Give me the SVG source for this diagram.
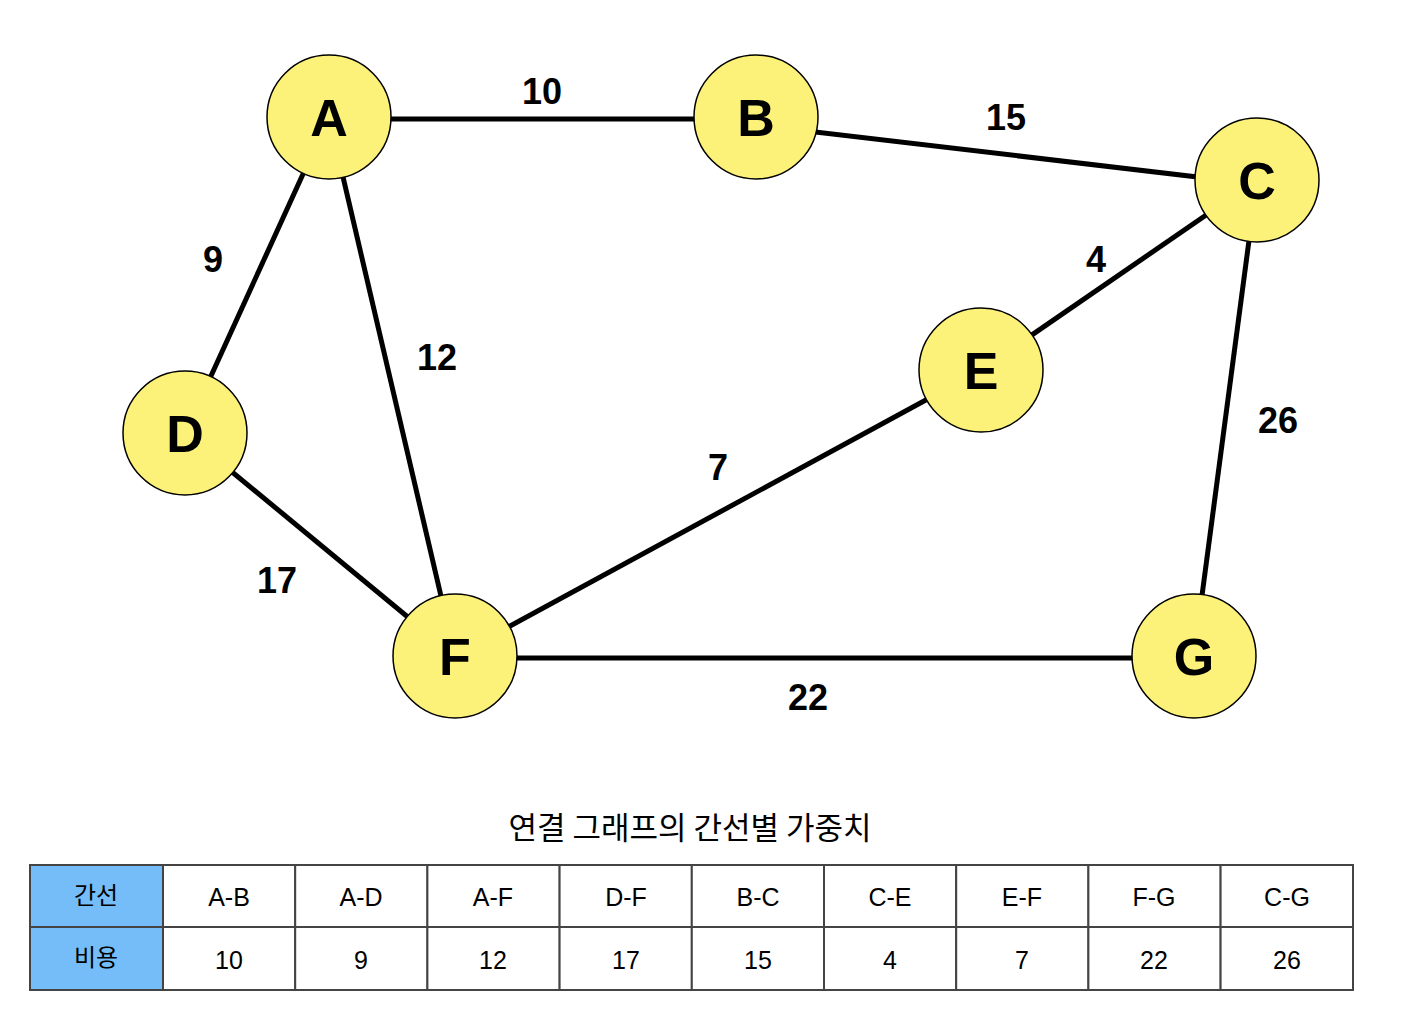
<svg xmlns="http://www.w3.org/2000/svg" width="1406" height="1032" viewBox="0 0 1406 1032">
<style>
.edge{stroke:#000;stroke-width:5;fill:none}
.node circle{fill:#FCF279;stroke:#000;stroke-width:1.5}
.node text{font-family:"Liberation Sans",Arial,sans-serif;font-weight:bold;font-size:52px;text-anchor:middle;fill:#000}
.wl{font-family:"Liberation Sans",Arial,sans-serif;font-weight:bold;font-size:36px;text-anchor:middle;fill:#000}
.cell{fill:#fff;stroke:#444;stroke-width:2}
.hcell{fill:#74BDF9;stroke:#444;stroke-width:2}
.ct{font-family:"Liberation Sans",Arial,sans-serif;font-size:25px;text-anchor:middle;fill:#000}
.kt{font-family:"Noto Sans CJK KR",sans-serif;font-size:24px;text-anchor:middle;fill:#000}
.title{font-family:"Noto Sans CJK KR",sans-serif;font-size:31px;text-anchor:middle;fill:#000}
</style>
<rect width="1406" height="1032" fill="#fff"/>
<g id="connectors">
<line class="edge" x1="329" y1="119" x2="756" y2="119"/>
<line class="edge" x1="756" y1="125" x2="1257" y2="184"/>
<line class="edge" x1="1257" y1="180" x2="981" y2="370"/>
<line class="edge" x1="329" y1="117" x2="185" y2="433"/>
<line class="edge" x1="329" y1="117" x2="455" y2="656"/>
<line class="edge" x1="185" y1="433" x2="455" y2="656"/>
<line class="edge" x1="455" y1="656" x2="981" y2="370"/>
<line class="edge" x1="455" y1="658" x2="1194" y2="658"/>
<line class="edge" x1="1257" y1="180" x2="1194" y2="656"/>
</g>
<g id="edge-labels">
<text class="wl" x="542" y="104">10</text>
<text class="wl" x="1006" y="130">15</text>
<text class="wl" x="213" y="272">9</text>
<text class="wl" x="437" y="370">12</text>
<text class="wl" x="1096" y="272">4</text>
<text class="wl" x="718" y="480">7</text>
<text class="wl" x="1278" y="433">26</text>
<text class="wl" x="277" y="593">17</text>
<text class="wl" x="808" y="710">22</text>
</g>
<g id="node-A" class="node"><circle cx="329" cy="117" r="62"/><text x="329" y="136">A</text></g>
<g id="node-B" class="node"><circle cx="756" cy="117" r="62"/><text x="756" y="136">B</text></g>
<g id="node-C" class="node"><circle cx="1257" cy="180" r="62"/><text x="1257" y="199">C</text></g>
<g id="node-D" class="node"><circle cx="185" cy="433" r="62"/><text x="185" y="452">D</text></g>
<g id="node-E" class="node"><circle cx="981" cy="370" r="62"/><text x="981" y="389">E</text></g>
<g id="node-F" class="node"><circle cx="455" cy="656" r="62"/><text x="455" y="675">F</text></g>
<g id="node-G" class="node"><circle cx="1194" cy="656" r="62"/><text x="1194" y="675">G</text></g>
<g id="table">
<text class="title" x="690" y="839">연결 그래프의 간선별 가중치</text>
<rect class="hcell" x="30" y="865" width="133" height="62"/>
<rect class="hcell" x="30" y="927" width="133" height="63"/>
<text class="kt" x="96" y="904">간선</text>
<text class="kt" x="96" y="966">비용</text>
<rect class="cell" x="163" y="865" width="132.2" height="62"/><rect class="cell" x="163" y="927" width="132.2" height="63"/>
<rect class="cell" x="295.2" y="865" width="132.2" height="62"/><rect class="cell" x="295.2" y="927" width="132.2" height="63"/>
<rect class="cell" x="427.4" y="865" width="132.2" height="62"/><rect class="cell" x="427.4" y="927" width="132.2" height="63"/>
<rect class="cell" x="559.6" y="865" width="132.2" height="62"/><rect class="cell" x="559.6" y="927" width="132.2" height="63"/>
<rect class="cell" x="691.8" y="865" width="132.2" height="62"/><rect class="cell" x="691.8" y="927" width="132.2" height="63"/>
<rect class="cell" x="824" y="865" width="132.2" height="62"/><rect class="cell" x="824" y="927" width="132.2" height="63"/>
<rect class="cell" x="956.2" y="865" width="132.2" height="62"/><rect class="cell" x="956.2" y="927" width="132.2" height="63"/>
<rect class="cell" x="1088.4" y="865" width="132.2" height="62"/><rect class="cell" x="1088.4" y="927" width="132.2" height="63"/>
<rect class="cell" x="1220.6" y="865" width="132.4" height="62"/><rect class="cell" x="1220.6" y="927" width="132.4" height="63"/>
<text class="ct" x="229" y="906">A-B</text><text class="ct" x="229" y="969">10</text>
<text class="ct" x="361" y="906">A-D</text><text class="ct" x="361" y="969">9</text>
<text class="ct" x="493" y="906">A-F</text><text class="ct" x="493" y="969">12</text>
<text class="ct" x="626" y="906">D-F</text><text class="ct" x="626" y="969">17</text>
<text class="ct" x="758" y="906">B-C</text><text class="ct" x="758" y="969">15</text>
<text class="ct" x="890" y="906">C-E</text><text class="ct" x="890" y="969">4</text>
<text class="ct" x="1022" y="906">E-F</text><text class="ct" x="1022" y="969">7</text>
<text class="ct" x="1154" y="906">F-G</text><text class="ct" x="1154" y="969">22</text>
<text class="ct" x="1287" y="906">C-G</text><text class="ct" x="1287" y="969">26</text>
</g>
</svg>
